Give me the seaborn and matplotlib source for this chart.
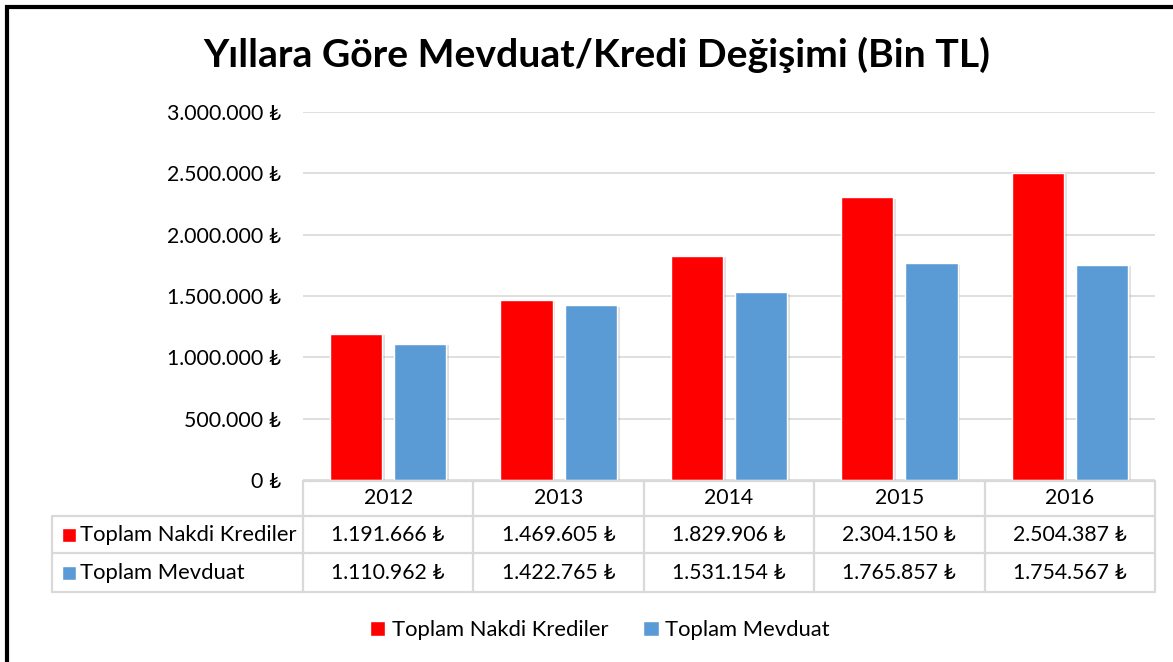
import seaborn as sns
import pandas as pd
import numpy as np
import matplotlib.pyplot as plt
import matplotlib.patheffects as pe
from matplotlib.patches import Rectangle
from matplotlib.lines import Line2D

# veriler
yillar = ['2012', '2013', '2014', '2015', '2016']
seriler = ['Toplam Nakdi Krediler', 'Toplam Mevduat']
krediler = [1191666, 1469605, 1829906, 2304150, 2504387]
mevduat = [1110962, 1422765, 1531154, 1765857, 1754567]
renkler = ['#FF0000', '#5B9BD5']
y_ticks = [0, 500000, 1000000, 1500000, 2000000, 2500000, 3000000]


def tl(v):
    # Turk usulu binlik ayraci ve TL isareti
    return f"{v:,}".replace(",", ".") + " ₺"


df = pd.DataFrame({
    'Yil': yillar * 2,
    'Seri': [seriler[0]] * 5 + [seriler[1]] * 5,
    'Deger': krediler + mevduat,
})

sns.set_style('white')
plt.rcParams['font.family'] = ['Lato', 'DejaVu Sans']
plt.rcParams['text.color'] = 'black'
plt.rcParams['ytick.color'] = 'black'

fig = plt.figure(figsize=(11.73, 6.62), dpi=100)
W, H = 1173, 662
ax = fig.add_axes([303 / W, 1 - 480 / H, 852 / W, 368 / H])

sns.barplot(data=df, x='Yil', y='Deger', hue='Seri', palette=renkler,
            width=0.753, gap=0.186, saturation=1, ax=ax, legend=False)

# golge efekti
for p in ax.patches:
    p.set_path_effects([pe.SimplePatchShadow(offset=(2, -1), shadow_rgbFace='#999999', alpha=0.3), pe.Normal()])

ax.set_xlim(-0.5, 4.5)
ax.set_ylim(0, 3000000)
ax.set_yticks(y_ticks)
ax.set_yticklabels([tl(v) for v in y_ticks], fontsize=15.3, color='black')
ax.tick_params(axis='y', length=0, pad=16)
ax.set_xticks([])
ax.set_xlabel('')
ax.set_ylabel('')
for s in ax.spines.values():
    s.set_visible(False)
ax.yaxis.grid(True, color='#d9d9d9', linewidth=1.2)
ax.set_axisbelow(True)

# veri tablosu
def fy(py):
    return (480 - py) / 368


def fx(px):
    return (px - 303) / 852


cizgi = dict(color='#d9d9d9', linewidth=1.6, transform=ax.transAxes, clip_on=False)
satir_y = [481, 516, 553, 592]
# yatay cizgiler
ax.add_line(Line2D([0, 1], [fy(481), fy(481)], **cizgi))
for py in satir_y[1:]:
    ax.add_line(Line2D([fx(52), 1], [fy(py), fy(py)], **cizgi))
# dikey cizgiler
for i in range(6):
    ax.add_line(Line2D([i / 5, i / 5], [fy(481), fy(592)], **cizgi))
ax.add_line(Line2D([fx(52), fx(52)], [fy(516), fy(592)], **cizgi))

for i, yil in enumerate(yillar):
    xc = (i + 0.5) / 5
    ax.text(xc, fy(498), yil, ha='center', va='center', fontsize=15.3, transform=ax.transAxes, clip_on=False)
    ax.text(xc, fy(535), tl(krediler[i]), ha='center', va='center', fontsize=15.3, transform=ax.transAxes, clip_on=False)
    ax.text(xc, fy(573), tl(mevduat[i]), ha='center', va='center', fontsize=15.3, transform=ax.transAxes, clip_on=False)

for j, (ad, yc) in enumerate(zip(seriler, [535, 573])):
    ax.add_patch(Rectangle((fx(62), fy(yc + 7)), 14 / 852, 14 / 368, facecolor=renkler[j],
                           transform=ax.transAxes, clip_on=False))
    ax.text(fx(80), fy(yc), ad, ha='left', va='center', fontsize=15.8, transform=ax.transAxes, clip_on=False)

# alt lejant
handles = [Rectangle((0, 0), 1, 1, facecolor=c) for c in renkler]
fig.legend(handles, seriler, loc='center', bbox_to_anchor=(600 / W, 1 - 630 / H), ncol=2,
           frameon=False, fontsize=15.8, handlelength=0.7, handleheight=0.7, handletextpad=0.3,
           columnspacing=1.6)

# baslik
fig.text(597 / W, 1 - 55 / H, 'Yıllara Göre Mevduat/Kredi Değişimi (Bin TL)', ha='center', va='center',
         fontsize=28.2, fontweight='bold', color='black')

# cerceve
fig.patches.append(Rectangle((7 / W, -0.5), 2, 1.5 - 7 / H, fill=False, edgecolor='black',
                             linewidth=3, transform=fig.transFigure, figure=fig))

plt.savefig('out.png', dpi=100)
plt.close()
